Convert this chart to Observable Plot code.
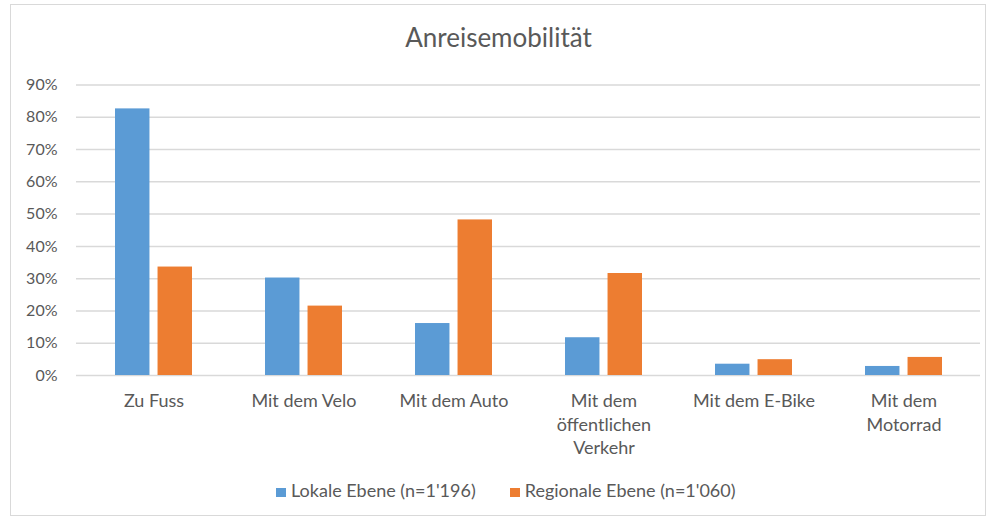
<!DOCTYPE html>
<html><head><meta charset="utf-8">
<script src="https://cdn.jsdelivr.net/npm/d3@7"></script>
<script src="https://cdn.jsdelivr.net/npm/@observablehq/plot@0.6"></script>
<style>
body{margin:0;background:#fff;font-family:Lato,sans-serif;color:#595959}
#wrap{position:relative;width:997px;height:521px;overflow:hidden;background:#fff}
#frame{position:absolute;left:10px;top:4px;width:974px;height:510px;border:1.5px solid #d9d9d9;pointer-events:none}
#title{position:absolute;left:0;top:21px;width:997px;text-align:center;font-size:26px;line-height:32px}
#chart{position:absolute;left:0;top:60px}
#legend{position:absolute;left:276px;top:479px;white-space:nowrap;font-size:18px;line-height:22px}
.item{display:inline-block;margin-right:34px}
.sw{display:inline-block;width:10px;height:9px;margin-right:5px;vertical-align:baseline}
</style></head>
<body><div id="wrap"><div id="frame"></div><div id="title">Anreisemobilität</div><div id="chart"></div><div id="legend"></div></div>
<script>
const categories = ["Zu Fuss", "Mit dem Velo", "Mit dem Auto", "Mit dem öffentlichen Verkehr", "Mit dem E-Bike", "Mit dem Motorrad"];
const categoryLabels = ["Zu Fuss", "Mit dem Velo", "Mit dem Auto", "Mit dem\nöffentlichen\nVerkehr", "Mit dem E-Bike", "Mit dem\nMotorrad"];
const seriesNames = ["Lokale Ebene (n=1'196)", "Regionale Ebene (n=1'060)"];
const lokal = [0.826, 0.302, 0.161, 0.117, 0.035, 0.028];
const regional = [0.336, 0.215, 0.482, 0.316, 0.049, 0.056];
const yTicks = [0, 0.1, 0.2, 0.3, 0.4, 0.5, 0.6, 0.7, 0.8, 0.9];
const colors = ["#5b9bd5", "#ed7d31"];

const rowsL = categories.map((c, i) => ({cat: c, value: lokal[i], series: seriesNames[0]}));
const rowsR = categories.map((c, i) => ({cat: c, value: regional[i], series: seriesNames[1]}));
const labelOf = new Map(categories.map((c, i) => [c, categoryLabels[i]]));

const W = 997, H = 404, ML = 76, MR = 17;
const step = (W - ML - MR) / categories.length;
const bandW = step * 0.51;
const inset = bandW - 34.3;

const chart = Plot.plot({
  width: W, height: H,
  marginLeft: ML, marginRight: MR, marginTop: 24.5, marginBottom: 89,
  style: {fontFamily: "Lato, sans-serif", color: "#595959", background: "transparent"},
  x: {domain: categories, paddingInner: 0.49, paddingOuter: 0.245, label: null},
  y: {domain: [0, 0.9], label: null},
  marks: [
    Plot.ruleY(yTicks, {stroke: "#d9d9d9", strokeWidth: 1.5}),
    Plot.barY(rowsL, {x: "cat", y: "value", fill: colors[0], insetRight: inset}),
    Plot.barY(rowsR, {x: "cat", y: "value", fill: colors[1], insetLeft: inset}),
    Plot.axisY({ticks: yTicks, tickFormat: d3.format(".0%"), tickSize: 0, tickPadding: 19, fontSize: 16, label: null}),
    Plot.axisX({tickSize: 0, tickPadding: 15, fontSize: 18, lineHeight: 1.3, tickFormat: d => labelOf.get(d), label: null})
  ]
});
document.getElementById("chart").appendChild(chart);

const legend = document.getElementById("legend");
seriesNames.forEach((n, i) => {
  const it = document.createElement("span");
  it.className = "item";
  const sw = document.createElement("span");
  sw.className = "sw";
  sw.style.background = colors[i];
  const tx = document.createElement("span");
  tx.textContent = n;
  it.appendChild(sw); it.appendChild(tx);
  legend.appendChild(it);
});
</script>
</body></html>
